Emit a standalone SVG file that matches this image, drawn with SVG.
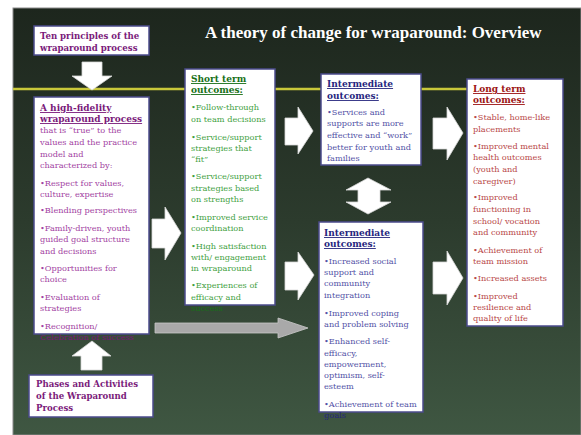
<svg xmlns="http://www.w3.org/2000/svg" width="581" height="435" viewBox="0 0 581 435">
<defs>
<linearGradient id="bg" x1="0" y1="0" x2="0" y2="1">
<stop offset="0" stop-color="#1d261d"/>
<stop offset="0.5" stop-color="#2c3b2d"/>
<stop offset="1" stop-color="#3f5742"/>
</linearGradient>
<style>
.box{fill:#fff;stroke:#4b4b8c;stroke-width:1.5}
.arr{fill:#fff;stroke:#d8d8d8;stroke-width:0.8}
text{font-family:"DejaVu Serif","Liberation Serif",serif;font-size:8.2px}
.h{font-weight:bold;text-decoration:underline;font-size:9px}
.pu{fill:#a23fa2}.puh{fill:#7a1a7a}
.gr{fill:#3f9f3f}.grh{fill:#187018}
.bl{fill:#5252a6}.blh{fill:#26267e}
.rd{fill:#b84848}.rdh{fill:#9c1414}
.title{fill:#fff;font-family:"Liberation Serif",serif;font-size:17px;font-weight:bold}
.b{font-weight:bold;font-size:8.6px}
</style>
</defs>
<rect x="0" y="0" width="581" height="435" fill="#fff"/>
<rect x="13" y="8" width="568" height="427" fill="url(#bg)" stroke="#8a8a8a" stroke-width="1"/>
<line x1="13" y1="89" x2="467" y2="89" stroke="#c9c83a" stroke-width="2.5"/>
<text class="title" x="205" y="38">A theory of change for wraparound: Overview</text>

<g id="connectors">
<polygon class="arr" points="82,62 102,62 102,76 112,76 92,90 72,76 82,76"/>
<polygon class="arr" points="92,341 111,356 102,356 102,370 81,370 81,356 72,356"/>
<polygon class="arr" points="152,219 165,219 165,207 181,233 165,260 165,248 152,248"/>
<polygon class="arr" points="285,118 298,118 298,107 313,131 298,154 298,145 285,145"/>
<polygon class="arr" points="285,262 298,262 298,252 314,275 298,300 298,290 285,290"/>
<polygon class="arr" points="433,118 447,118 447,107 463,133 447,160 447,149 433,149"/>
<polygon class="arr" points="433,262 447,262 447,251 463,278 447,305 447,294 433,294"/>
<polygon class="arr" points="368,178 391,190 380,190 380,202 391,202 368,214 346,202 358,202 358,190 346,190"/>
<polygon fill="#a9a9a9" stroke="#c8c8c8" stroke-width="0.8" points="155,323 278,323 278,318 308,328 278,338 278,333 155,333"/>
</g>

<g id="ten-principles">
<rect class="box" x="34" y="26" width="115" height="29"/>
<text class="puh b" x="40" y="39">Ten principles of the</text>
<text class="puh b" x="40" y="51">wraparound process</text>
</g>

<g id="high-fidelity">
<rect class="box" x="34" y="97" width="115" height="237"/>
<text class="puh h" x="40" y="111">A high-fidelity</text>
<text class="puh h" x="40" y="122">wraparound process</text>
<text class="pu" x="40" y="133">that is “true” to the</text>
<text class="pu" x="40" y="145">values and the practice</text>
<text class="pu" x="40" y="157">model and</text>
<text class="pu" x="40" y="168">characterized by:</text>
<text class="pu" x="40" y="186">•Respect for values,</text>
<text class="pu" x="40" y="197">culture, expertise</text>
<text class="pu" x="40" y="213">•Blending perspectives</text>
<text class="pu" x="40" y="231">•Family-driven, youth</text>
<text class="pu" x="40" y="242">guided goal structure</text>
<text class="pu" x="40" y="254">and decisions</text>
<text class="pu" x="40" y="271">•Opportunities for</text>
<text class="pu" x="40" y="282">choice</text>
<text class="pu" x="40" y="300">•Evaluation of</text>
<text class="pu" x="40" y="311">strategies</text>
<text class="pu" x="40" y="329">•Recognition/</text>
<text class="puh" x="40" y="340">Celebration of success</text>
</g>

<g id="phases">
<rect class="box" x="29" y="375" width="124" height="42"/>
<text class="puh b" x="36" y="387">Phases and Activities</text>
<text class="puh b" x="36" y="399">of the Wraparound</text>
<text class="puh b" x="36" y="411">Process</text>
</g>

<g id="short-term">
<rect class="box" x="185" y="69" width="90" height="236"/>
<text class="grh h" x="191" y="82">Short term</text>
<text class="grh h" x="191" y="93">outcomes:</text>
<text class="gr" x="191" y="110">•Follow-through</text>
<text class="gr" x="191" y="122">on team decisions</text>
<text class="gr" x="191" y="140">•Service/support</text>
<text class="gr" x="191" y="151">strategies that</text>
<text class="gr" x="191" y="162">“fit”</text>
<text class="gr" x="191" y="179">•Service/support</text>
<text class="gr" x="191" y="191">strategies based</text>
<text class="gr" x="191" y="202">on strengths</text>
<text class="gr" x="191" y="220">•Improved service</text>
<text class="gr" x="191" y="231">coordination</text>
<text class="gr" x="191" y="249">•High satisfaction</text>
<text class="gr" x="191" y="260">with/ engagement</text>
<text class="gr" x="191" y="271">in wraparound</text>
<text class="gr" x="191" y="288">•Experiences of</text>
<text class="gr" x="191" y="300">efficacy and</text>
<text class="grh" x="191" y="311">success</text>
</g>

<g id="intermediate-top">
<rect class="box" x="321" y="74" width="100" height="91"/>
<text class="blh h" x="327" y="87">Intermediate</text>
<text class="blh h" x="327" y="99">outcomes:</text>
<text class="bl" x="327" y="115">•Services and</text>
<text class="bl" x="327" y="126">supports are more</text>
<text class="bl" x="327" y="138">effective and “work”</text>
<text class="bl" x="327" y="150">better for youth and</text>
<text class="bl" x="327" y="161">families</text>
</g>

<g id="intermediate-bottom">
<rect class="box" x="319" y="222" width="104" height="190"/>
<text class="blh h" x="324" y="236">Intermediate</text>
<text class="blh h" x="324" y="247">outcomes:</text>
<text class="bl" x="324" y="264">•Increased social</text>
<text class="bl" x="324" y="275">support and</text>
<text class="bl" x="324" y="286">community</text>
<text class="bl" x="324" y="298">integration</text>
<text class="bl" x="324" y="316">•Improved coping</text>
<text class="bl" x="324" y="327">and problem solving</text>
<text class="bl" x="324" y="344">•Enhanced self-</text>
<text class="bl" x="324" y="356">efficacy,</text>
<text class="bl" x="324" y="367">empowerment,</text>
<text class="bl" x="324" y="378">optimism, self-</text>
<text class="bl" x="324" y="389">esteem</text>
<text class="bl" x="324" y="407">•Achievement of team</text>
<text class="blh" x="324" y="418">goals</text>
</g>

<g id="long-term">
<rect class="box" x="467" y="79" width="96" height="247"/>
<text class="rdh h" x="473" y="92">Long term</text>
<text class="rdh h" x="473" y="103">outcomes:</text>
<text class="rd" x="473" y="120">•Stable, home-like</text>
<text class="rd" x="473" y="132">placements</text>
<text class="rd" x="473" y="149">•Improved mental</text>
<text class="rd" x="473" y="160">health outcomes</text>
<text class="rd" x="473" y="172">(youth and</text>
<text class="rd" x="473" y="184">caregiver)</text>
<text class="rd" x="473" y="200">•Improved</text>
<text class="rd" x="473" y="212">functioning in</text>
<text class="rd" x="473" y="224">school/ vocation</text>
<text class="rd" x="473" y="235">and community</text>
<text class="rd" x="473" y="253">•Achievement of</text>
<text class="rd" x="473" y="264">team mission</text>
<text class="rd" x="473" y="281">•Increased assets</text>
<text class="rd" x="473" y="299">•Improved</text>
<text class="rd" x="473" y="310">resilience and</text>
<text class="rd" x="473" y="321">quality of life</text>
</g>
</svg>
